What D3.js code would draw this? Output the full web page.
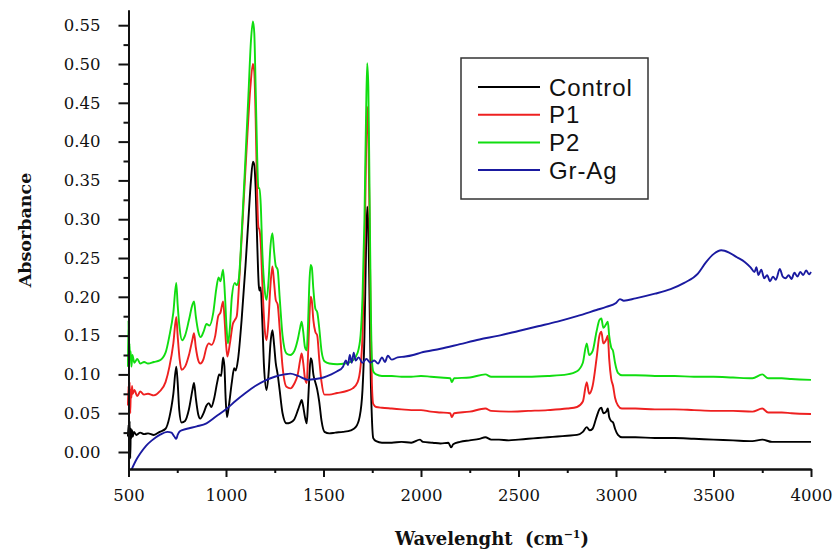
<!DOCTYPE html>
<html>
<head>
<meta charset="utf-8">
<script src="https://cdn.jsdelivr.net/npm/d3@7"></script>
<style>
  html, body { margin: 0; padding: 0; background: #fff; }
  svg { display: block; }
</style>
</head>
<body>
<svg id="chart" width="840" height="551"></svg>
<script>
// ---- Data (wavenumber cm^-1, absorbance) ----
const seriesNames = ["Control", "P1", "P2", "Gr-Ag"];
const seriesColors = ["#000000", "#ee2020", "#10dd10", "#1a1aa0"];

const control = [
[497,0.02],[500,0.035],[503,0.01],[506,0.04],[509,-0.008],[512,0.03],[515,0.018],[518,0.028],[522,0.02],[528,0.026],[540,0.022],[560,0.025],[580,0.023],[600,0.024],[630,0.022],[660,0.026],[690,0.03],[710,0.045],[730,0.075],[745,0.11],[752,0.09],[760,0.055],[772,0.038],[790,0.04],[810,0.055],[828,0.08],[836,0.089],[845,0.07],[858,0.048],[868,0.043],[885,0.05],[900,0.06],[912,0.063],[925,0.058],[940,0.07],[955,0.09],[965,0.1],[975,0.098],[985,0.122],[992,0.11],[998,0.07],[1005,0.045],[1015,0.06],[1030,0.09],[1042,0.108],[1050,0.105],[1062,0.12],[1080,0.17],[1100,0.24],[1115,0.3],[1128,0.35],[1138,0.374],[1145,0.37],[1152,0.34],[1160,0.27],[1168,0.215],[1172,0.208],[1178,0.212],[1186,0.17],[1195,0.11],[1208,0.08],[1218,0.1],[1228,0.14],[1238,0.157],[1246,0.14],[1255,0.115],[1265,0.1],[1275,0.08],[1290,0.05],[1310,0.037],[1330,0.038],[1350,0.042],[1370,0.055],[1380,0.062],[1388,0.067],[1395,0.06],[1405,0.045],[1414,0.037],[1420,0.06],[1428,0.1],[1434,0.121],[1440,0.118],[1448,0.1],[1458,0.09],[1468,0.08],[1478,0.065],[1490,0.04],[1505,0.026],[1530,0.024],[1560,0.025],[1600,0.026],[1640,0.028],[1665,0.032],[1685,0.045],[1700,0.08],[1710,0.15],[1718,0.26],[1724,0.316],[1730,0.29],[1736,0.2],[1742,0.1],[1748,0.045],[1755,0.018],[1770,0.014],[1800,0.012],[1850,0.012],[1900,0.013],[1950,0.012],[1995,0.016],[2010,0.013],[2060,0.012],[2100,0.011],[2140,0.012],[2155,0.006],[2165,0.01],[2200,0.013],[2250,0.015],[2300,0.017],[2330,0.019],[2360,0.016],[2400,0.016],[2450,0.015],[2500,0.016],[2550,0.017],[2600,0.018],[2650,0.019],[2700,0.02],[2750,0.021],[2800,0.022],[2830,0.026],[2850,0.032],[2865,0.028],[2880,0.03],[2900,0.045],[2915,0.055],[2925,0.057],[2935,0.05],[2950,0.052],[2958,0.056],[2965,0.045],[2975,0.04],[2985,0.038],[2995,0.03],[3010,0.022],[3030,0.019],[3100,0.019],[3200,0.018],[3300,0.018],[3400,0.017],[3500,0.016],[3600,0.015],[3700,0.014],[3750,0.016],[3800,0.013],[3900,0.013],[4000,0.013]
];

const p1 = [
[497,0.06],[500,0.085],[503,0.06],[506,0.09],[509,0.05],[512,0.08],[515,0.07],[518,0.085],[522,0.075],[530,0.08],[545,0.072],[560,0.078],[580,0.074],[600,0.075],[630,0.073],[660,0.078],[690,0.09],[710,0.11],[730,0.14],[745,0.174],[752,0.15],[762,0.12],[772,0.106],[790,0.11],[810,0.125],[828,0.145],[836,0.153],[845,0.135],[858,0.118],[868,0.114],[885,0.12],[900,0.135],[912,0.14],[925,0.138],[945,0.15],[960,0.175],[972,0.18],[985,0.194],[993,0.17],[1000,0.14],[1007,0.123],[1020,0.14],[1035,0.165],[1045,0.17],[1055,0.175],[1070,0.23],[1090,0.32],[1110,0.41],[1125,0.47],[1138,0.5],[1145,0.49],[1152,0.43],[1160,0.33],[1166,0.29],[1172,0.286],[1178,0.27],[1186,0.22],[1198,0.16],[1208,0.144],[1218,0.17],[1228,0.215],[1238,0.239],[1246,0.22],[1255,0.196],[1265,0.19],[1275,0.16],[1290,0.11],[1310,0.084],[1330,0.082],[1350,0.088],[1368,0.1],[1380,0.118],[1388,0.127],[1396,0.115],[1405,0.095],[1414,0.089],[1420,0.12],[1428,0.175],[1434,0.2],[1440,0.195],[1448,0.17],[1458,0.155],[1468,0.15],[1478,0.12],[1490,0.09],[1505,0.074],[1530,0.074],[1570,0.076],[1610,0.078],[1650,0.082],[1675,0.09],[1690,0.11],[1700,0.15],[1710,0.25],[1718,0.38],[1724,0.445],[1730,0.41],[1736,0.3],[1742,0.17],[1748,0.09],[1755,0.062],[1770,0.058],[1800,0.057],[1850,0.056],[1900,0.055],[1950,0.054],[2000,0.054],[2050,0.052],[2100,0.051],[2150,0.05],[2158,0.045],[2170,0.05],[2250,0.052],[2330,0.056],[2360,0.053],[2450,0.052],[2550,0.053],[2650,0.054],[2750,0.056],[2800,0.058],[2830,0.065],[2850,0.09],[2862,0.075],[2880,0.085],[2900,0.12],[2915,0.15],[2925,0.155],[2935,0.14],[2950,0.145],[2958,0.15],[2965,0.12],[2975,0.095],[2985,0.085],[2995,0.07],[3010,0.06],[3030,0.056],[3100,0.056],[3200,0.055],[3300,0.055],[3400,0.054],[3500,0.053],[3600,0.053],[3700,0.052],[3750,0.056],[3780,0.051],[3850,0.051],[3900,0.05],[4000,0.049]
];

const p2 = [
[497,0.11],[500,0.17],[502,0.1],[505,0.14],[508,0.12],[511,0.13],[515,0.11],[520,0.125],[530,0.115],[545,0.12],[560,0.114],[580,0.116],[600,0.114],[630,0.116],[660,0.118],[690,0.128],[710,0.15],[730,0.18],[745,0.218],[752,0.19],[762,0.16],[775,0.144],[790,0.15],[810,0.17],[828,0.19],[836,0.194],[845,0.175],[858,0.155],[870,0.148],[885,0.155],[900,0.165],[915,0.163],[935,0.18],[950,0.21],[962,0.225],[972,0.22],[985,0.235],[995,0.2],[1003,0.16],[1010,0.14],[1020,0.16],[1030,0.2],[1045,0.218],[1055,0.215],[1065,0.222],[1080,0.28],[1100,0.38],[1115,0.46],[1128,0.53],[1138,0.555],[1145,0.54],[1152,0.47],[1160,0.38],[1166,0.34],[1172,0.34],[1178,0.32],[1186,0.26],[1198,0.21],[1208,0.196],[1218,0.22],[1228,0.265],[1238,0.282],[1246,0.26],[1255,0.24],[1265,0.235],[1275,0.2],[1290,0.15],[1310,0.127],[1330,0.125],[1350,0.13],[1368,0.145],[1380,0.16],[1388,0.168],[1396,0.155],[1405,0.135],[1414,0.131],[1420,0.16],[1428,0.22],[1434,0.241],[1440,0.238],[1448,0.21],[1458,0.185],[1468,0.18],[1478,0.16],[1490,0.13],[1505,0.117],[1530,0.114],[1570,0.113],[1610,0.114],[1650,0.118],[1675,0.128],[1690,0.15],[1700,0.2],[1710,0.3],[1718,0.43],[1724,0.501],[1730,0.47],[1736,0.34],[1742,0.2],[1748,0.12],[1755,0.104],[1770,0.1],[1800,0.098],[1850,0.098],[1900,0.097],[1950,0.097],[2000,0.098],[2050,0.097],[2100,0.096],[2150,0.095],[2158,0.09],[2170,0.095],[2250,0.096],[2330,0.1],[2360,0.097],[2450,0.097],[2550,0.097],[2650,0.098],[2750,0.1],[2800,0.104],[2830,0.115],[2850,0.14],[2862,0.125],[2880,0.13],[2900,0.155],[2915,0.17],[2925,0.172],[2935,0.16],[2950,0.165],[2958,0.168],[2965,0.15],[2975,0.135],[2985,0.13],[2995,0.115],[3010,0.102],[3030,0.099],[3100,0.099],[3200,0.098],[3300,0.098],[3400,0.097],[3500,0.097],[3600,0.096],[3700,0.095],[3750,0.1],[3780,0.095],[3850,0.095],[3900,0.094],[4000,0.093]
];

const grAg = [
[515,-0.023],[540,-0.01],[560,-0.002],[590,0.008],[620,0.015],[660,0.022],[700,0.026],[720,0.025],[735,0.02],[745,0.017],[752,0.022],[765,0.027],[800,0.03],[850,0.033],[900,0.037],[950,0.046],[1000,0.055],[1050,0.066],[1100,0.076],[1150,0.085],[1200,0.092],[1250,0.097],[1300,0.1],[1330,0.101],[1370,0.098],[1420,0.093],[1460,0.094],[1500,0.096],[1540,0.1],[1570,0.104],[1600,0.11],[1615,0.118],[1625,0.112],[1635,0.125],[1645,0.115],[1655,0.128],[1665,0.118],[1680,0.122],[1700,0.115],[1720,0.12],[1740,0.115],[1760,0.118],[1780,0.114],[1800,0.122],[1815,0.116],[1830,0.124],[1850,0.119],[1880,0.122],[1920,0.123],[1960,0.125],[2000,0.128],[2100,0.133],[2200,0.139],[2300,0.145],[2400,0.15],[2500,0.156],[2600,0.162],[2700,0.168],[2800,0.175],[2900,0.183],[2950,0.187],[3000,0.192],[3020,0.197],[3040,0.195],[3100,0.198],[3200,0.204],[3280,0.21],[3350,0.218],[3420,0.23],[3460,0.244],[3500,0.255],[3540,0.26],[3580,0.257],[3620,0.251],[3660,0.245],[3690,0.238],[3710,0.232],[3720,0.238],[3730,0.228],[3745,0.235],[3760,0.224],[3775,0.228],[3790,0.22],[3805,0.226],[3820,0.222],[3840,0.236],[3855,0.226],[3870,0.224],[3885,0.228],[3900,0.223],[3915,0.231],[3930,0.226],[3945,0.232],[3960,0.228],[3975,0.234],[3990,0.229],[4000,0.232]
];

const xMajorTicks = [500, 1000, 1500, 2000, 2500, 3000, 3500, 4000];
const xMinorTicks = [750, 1250, 1750, 2250, 2750, 3250, 3750];
const yMajorTicks = [0.00, 0.05, 0.10, 0.15, 0.20, 0.25, 0.30, 0.35, 0.40, 0.45, 0.50, 0.55];
const yMinorTicks = [0.025, 0.075, 0.125, 0.175, 0.225, 0.275, 0.325, 0.375, 0.425, 0.475, 0.525];
const xTitle = "Wavelenght";
const yTitle = "Absorbance";

// ---- Layout ----
const svg = d3.select("#chart");
const mLeft = 128.5, mRight = 811, mTop = 10, mBottom = 469;

const x = d3.scaleLinear().domain([500, 4000]).range([mLeft, mRight]);
const y = d3.scaleLinear().domain([-0.0219, 0.5696]).range([mBottom, mTop]);

const serifFont = "'DejaVu Serif', serif";

// curves
const line = d3.line().x(d => x(d[0])).y(d => y(d[1])).curve(d3.curveMonotoneX);
const allSeries = [control, p1, p2, grAg];
const g = svg.append("g");
allSeries.forEach((s, i) => {
  g.append("path")
    .datum(s)
    .attr("fill", "none")
    .attr("stroke", seriesColors[i])
    .attr("stroke-width", 1.9)
    .attr("stroke-linejoin", "round")
    .attr("d", line);
});

// axes
const yAxisMajor = d3.axisLeft(y).tickValues(yMajorTicks).tickSize(10).tickSizeOuter(0)
  .tickPadding(18).tickFormat(d3.format(".2f"));
const yAxisMinor = d3.axisLeft(y).tickValues(yMinorTicks).tickSize(5).tickSizeOuter(0).tickFormat("");
const xAxisMajor = d3.axisBottom(x).tickValues(xMajorTicks).tickSize(8).tickSizeOuter(0)
  .tickPadding(12).tickFormat(d3.format("d"));
const xAxisMinor = d3.axisBottom(x).tickValues(xMinorTicks).tickSize(4).tickSizeOuter(0).tickFormat("");

function styleAxis(sel) {
  sel.selectAll("path.domain").attr("stroke", "#111").attr("stroke-width", 2);
  sel.selectAll(".tick line").attr("stroke", "#111").attr("stroke-width", 2);
  sel.selectAll(".tick text").attr("fill", "#111")
    .style("font-family", serifFont).style("font-size", "16.5px");
}

svg.append("g").attr("transform", `translate(${mLeft},0)`).call(yAxisMinor).call(styleAxis);
svg.append("g").attr("transform", `translate(${mLeft},0)`).call(yAxisMajor).call(styleAxis);
svg.append("g").attr("transform", `translate(0,${mBottom})`).call(xAxisMinor).call(styleAxis);
svg.append("g").attr("transform", `translate(0,${mBottom})`).call(xAxisMajor).call(styleAxis);

// axis titles
svg.append("text")
  .attr("transform", "translate(31,230) rotate(-90)")
  .attr("text-anchor", "middle")
  .style("font-family", serifFont).style("font-weight", "bold").style("font-size", "17.5px")
  .attr("fill", "#111")
  .text(yTitle);

const xt = svg.append("text")
  .attr("x", 492).attr("y", 545)
  .attr("text-anchor", "middle")
  .style("font-family", serifFont).style("font-weight", "bold").style("font-size", "18px")
  .attr("fill", "#111");
xt.append("tspan").text(xTitle + "\u00a0\u00a0(cm");
xt.append("tspan").attr("dy", -7).style("font-size", "11px").text("\u22121");
xt.append("tspan").attr("dy", 7).text(")");

// legend
const lg = svg.append("g");
lg.append("rect").attr("x", 461).attr("y", 58).attr("width", 187).attr("height", 141)
  .attr("fill", "#fff").attr("stroke", "#333").attr("stroke-width", 1.5);
seriesNames.forEach((name, i) => {
  const yy = 87 + i * 27.7;
  lg.append("line").attr("x1", 478).attr("x2", 540).attr("y1", yy).attr("y2", yy)
    .attr("stroke", seriesColors[i]).attr("stroke-width", 2);
  lg.append("text").attr("x", 549).attr("y", yy).attr("dy", "0.36em")
    .style("font-family", "'Liberation Sans', Arial, sans-serif").style("font-size", "24px")
    .style("letter-spacing", "0.9px")
    .attr("fill", "#111").text(name);
});
</script>
</body>
</html>
